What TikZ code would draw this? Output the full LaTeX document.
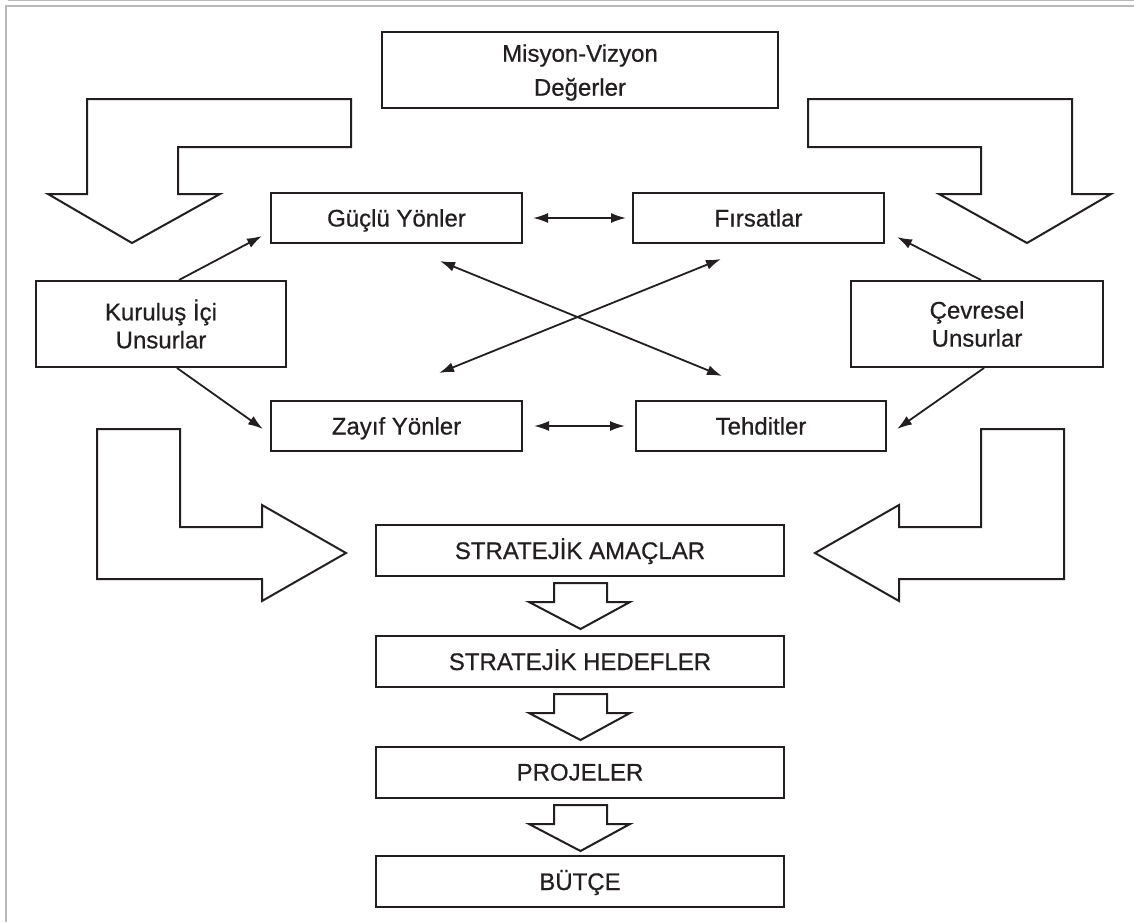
\documentclass[tikz,border=0pt]{standalone}
\usepackage{fontspec}
\setmainfont{Liberation Sans}
\newfontfamily\yazi{Liberation Sans}[FakeBold=0.6]
\usetikzlibrary{arrows.meta}
\definecolor{ink}{HTML}{231F20}

\begin{document}
\begin{tikzpicture}[x=1pt,y=-1pt,line join=miter,
    kutu/.style={draw=ink,line width=2pt,inner sep=0pt,text=ink,font=\yazi\fontsize{24}{28}\selectfont},
    tek/.style={kutu,minimum height=50pt,text height=17pt,text depth=0pt},
    buyuk/.style={draw=ink,line width=2pt,fill=white},
    ok/.style={draw=ink,line width=1.8pt,-{Latex[length=15pt,width=10pt]}},
    cift/.style={ok,{Latex[length=15pt,width=10pt]}-{Latex[length=15pt,width=10pt]}}]
    \useasboundingbox (0,0) rectangle (1134,922);
    \draw[gray!55,line width=1.2pt] (8,0.6) -- (1134,0.6);
    \draw[gray!55,line width=1.5pt] (1134,6) -- (6,6) -- (6,922);

    \node[kutu,align=center,minimum width=396pt,minimum height=76pt,text depth=0pt] (misyon) at (580,70)
    {Misyon-Vizyon\\[6pt]Değerler};

    % buyuk oklar
    \draw[buyuk] (351,99) -- (87,99) -- (87,194) -- (48,194) -- (132,243) -- (220,194) -- (178,194) -- (178,147) -- (351,147) -- cycle;
    \draw[buyuk] (808,99) -- (1072,99) -- (1072,194) -- (1111,194) -- (1027,243) -- (939,194) -- (981,194) -- (981,147) -- (808,147) -- cycle;
    \draw[buyuk] (97,429) -- (180,429) -- (180,527) -- (262,527) -- (262,505) -- (346,553) -- (262,601) -- (262,579) -- (97,579) -- cycle;
    \draw[buyuk] (1064,429) -- (981,429) -- (981,527) -- (899,527) -- (899,505) -- (815,553) -- (899,601) -- (899,579) -- (1064,579) -- cycle;

    \node[tek,minimum width=251pt] (guclu) at (396.5,218) {Güçlü Yönler};
    \node[tek,minimum width=251pt] (firsat) at (758.5,218) {Fırsatlar};
    \node[tek,minimum width=251pt] (zayif) at (396.5,426) {Zayıf Yönler};
    \node[tek,minimum width=250pt] (tehdit) at (761,426) {Tehditler};
    \node[kutu,align=center,minimum width=250pt,minimum height=86pt] (kurulus) at (161,324) {Kuruluş İçi\\Unsurlar};
    \node[kutu,align=center,minimum width=252pt,minimum height=86pt] (cevre) at (977,324) {Çevresel\\Unsurlar};

    \node[tek,minimum width=408pt,minimum height=51pt] (amac) at (580,550.5) {STRATEJİK AMAÇLAR};
    \node[tek,minimum width=408pt,minimum height=51pt] (hedef) at (580,661.5) {STRATEJİK HEDEFLER};
    \node[tek,minimum width=408pt,minimum height=51pt] (proje) at (580,772) {PROJELER};
    \node[tek,minimum width=408pt,minimum height=51pt] (butce) at (580,881.5) {BÜTÇE};

    % kucuk oklar
    \foreach \y in {583,694,805}
        \draw[buyuk] (554,\y) -- (607,\y) -- (607,\y+19) -- (630,\y+19) -- (580.5,\y+46) -- (529,\y+19) -- (554,\y+19) -- cycle;

    \draw[ok] ([xshift=18pt]kurulus.north) -- ([xshift=-8pt,yshift=8pt]guclu.south west);
    \draw[ok] ([xshift=16pt]kurulus.south) -- ([xshift=-7pt,yshift=-3pt]zayif.west);
    \draw[ok] ([xshift=4pt]cevre.north) -- ([xshift=12pt,yshift=7pt]firsat.south east);
    \draw[ok] ([xshift=7pt]cevre.south) -- ([xshift=10pt,yshift=-3pt]tehdit.east);
    \draw[cift,shorten <=10pt,shorten >=6pt] (guclu) -- (firsat);
    \draw[cift,shorten <=11pt,shorten >=10pt] (zayif) -- (tehdit);

    \coordinate (g-ucu) at (440,261);
    \coordinate (t-ucu) at (722,376);
    \coordinate (f-ucu) at (721,259);
    \coordinate (z-ucu) at (439,373);
    \draw[cift] (g-ucu) -- (t-ucu);
    \draw[cift] (f-ucu) -- (z-ucu);
\end{tikzpicture}
\end{document}
